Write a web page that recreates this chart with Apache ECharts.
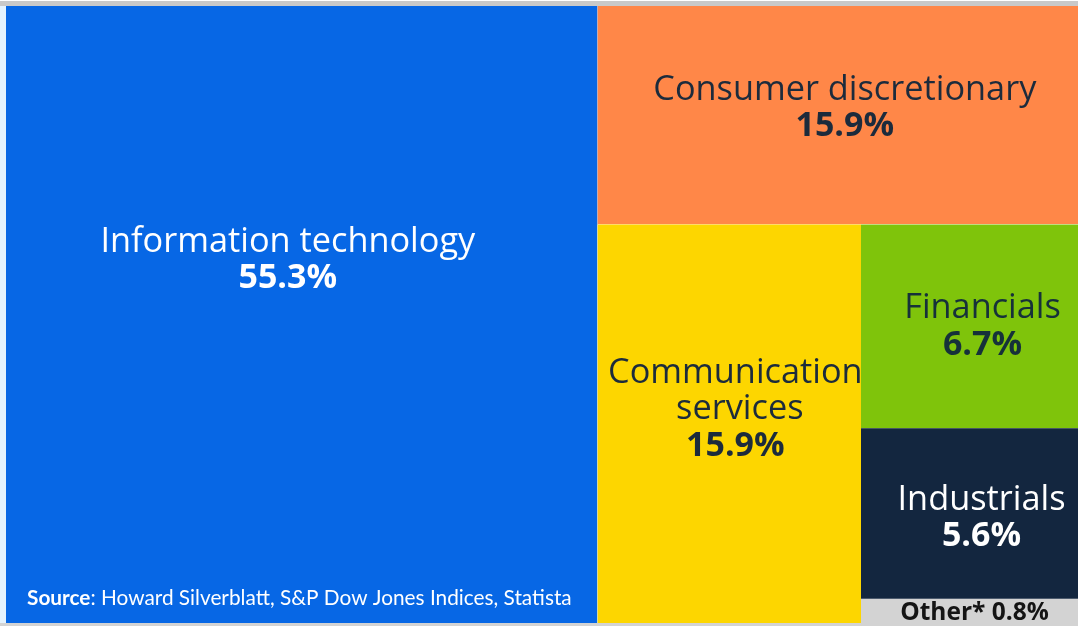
<!DOCTYPE html>
<html>
<head>
<meta charset="utf-8">
<title>S&amp;P 500 sector weights</title>
<script src="https://cdn.jsdelivr.net/npm/echarts@6/dist/echarts.min.js"></script>
<style>
  html, body { margin: 0; padding: 0; background: #ffffff; }
  #frame { position: relative; width: 1078px; height: 626px; overflow: hidden; background: #ffffff; }
  #frame .band-top { position: absolute; left: 0; top: 1px; width: 1078px; height: 5px; background: #c9c9c9; }
  #frame .band-left { position: absolute; left: 0; top: 6px; width: 6px; height: 620px; background: #e4f3fe; }
  #frame .band-bottom { position: absolute; left: 0; top: 623px; width: 1078px; height: 3px; background: #d3d3d3; }
  #chart { position: absolute; left: 0; top: 0; width: 1078px; height: 626px; }
</style>
</head>
<body>
<div id="frame">
  <div class="band-top"></div>
  <div class="band-left"></div>
  <div class="band-bottom"></div>
  <div id="chart"></div>
</div>
<script>
// Sector names and their share of the index (percent)
const sectors = ['Information technology', 'Consumer discretionary', 'Communication services', 'Financials', 'Industrials', 'Other*'];
const shares = [55.3, 15.9, 15.9, 6.7, 5.6, 0.8];
const sourceNote = 'Source';
const sourceText = ': Howard Silverblatt, S&P Dow Jones Indices, Statista';

// Styling per sector
const fills = ['#0767e5', '#ff8748', '#fdd600', '#7fc40b', '#13263f', '#d3d3d3'];
const inks = ['#ffffff', '#1c2b3c', '#1c2b3c', '#16313a', '#ffffff', '#141414'];
// label placement inside each block: space above the text, horizontal nudge
const labelTopSpace = [218, 66, 131, 66, 54, 4];
const labelNudgeX = [-14, 7, 6, 13, 12, 5];

function labelFor(i) {
  const single = i === sectors.length - 1;
  return {
    show: true,
    position: 'inside',
    align: 'center',
    verticalAlign: 'middle',
    padding: [labelTopSpace[i], 0, 0, 0],
    offset: [labelNudgeX[i], 0],
    overflow: 'break',
    color: inks[i],
    // the line break sits inside the value token so wrapped labels keep it
    formatter: single
      ? '{s|{b} {c}%}'
      : '{n|{b}}{v|\n{c}%}',
    rich: {
      n: { fontFamily: 'Open Sans', fontSize: 34.3, lineHeight: 36, color: inks[i], align: 'center' },
      v: { fontFamily: 'Open Sans', fontSize: 34, fontWeight: 'bold', lineHeight: 37, color: inks[i], align: 'center' },
      s: { fontFamily: 'Open Sans', fontSize: 24.5, fontWeight: 'bold', lineHeight: 20, color: inks[i], align: 'center' }
    }
  };
}

function leaf(i) {
  return {
    name: sectors[i],
    value: shares[i],
    itemStyle: { color: fills[i] },
    label: labelFor(i)
  };
}

// Nesting keeps the blocks in reading order: the large block on the left,
// the remaining sectors stacked and split on the right.
const tree = [
  leaf(0),
  { name: 'group-right', itemStyle: { color: fills[1] }, children: [
    leaf(1),
    { name: 'group-lower', itemStyle: { color: fills[2] }, children: [
      leaf(2),
      { name: 'group-small', itemStyle: { color: fills[4] }, children: [
        { name: 'group-fin-ind', itemStyle: { color: fills[4] }, children: [leaf(3), leaf(4)] },
        leaf(5)
      ] }
    ] }
  ] }
];

const chart = echarts.init(document.getElementById('chart'), null, { renderer: 'canvas' });
chart.setOption({
  animation: false,
  backgroundColor: 'transparent',
  title: {
    left: 22,
    top: 583,
    text: '{b|' + sourceNote + '}{r|' + sourceText + '}',
    textStyle: {
      fontWeight: 'normal',
      rich: {
        b: { fontFamily: 'Lato', fontSize: 20.8, fontWeight: 'bold', color: '#ffffff' },
        r: { fontFamily: 'Lato', fontSize: 20.8, fontWeight: 'normal', color: '#ffffff' }
      }
    }
  },
  tooltip: { show: false },
  series: [{
    type: 'treemap',
    left: 6,
    top: 6,
    width: 1072,
    height: 617,
    roam: false,
    nodeClick: false,
    sort: false,
    squareRatio: 1,
    breadcrumb: { show: false },
    upperLabel: { show: false },
    itemStyle: { borderWidth: 0, gapWidth: 0 },
    emphasis: { disabled: true },
    data: tree
  }]
});
</script>
</body>
</html>
